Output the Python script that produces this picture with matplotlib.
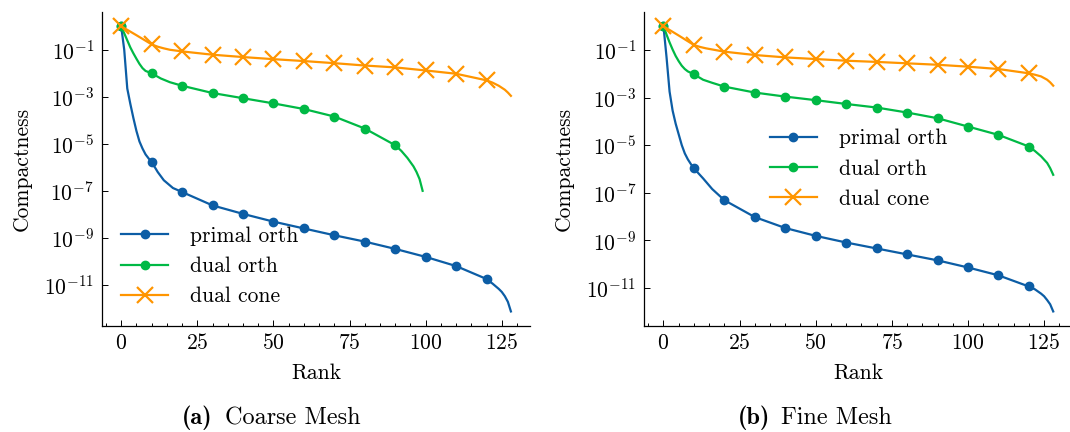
import numpy as np
import matplotlib
matplotlib.use("Agg")
import matplotlib.pyplot as plt
from matplotlib.ticker import MultipleLocator, FixedLocator, NullLocator, LogFormatterSciNotation

# ---------------- data (compactness as log10 exponent) -------------
series_labels = ["primal orth", "dual orth", "dual cone"]
colors = ["#0C5DA5", "#00B945", "#FF9500"]
yticks = [1e-11, 1e-9, 1e-7, 1e-5, 1e-3, 1e-1]
caption_tags = ["(a)", "(b)"]
caption_texts = ["Coarse Mesh", "Fine Mesh"]

# Coarse mesh
coarse_primal_x = [0, 1, 2, 3, 4, 5, 6, 7, 8, 9, 10, 12, 14, 17, 20, 30, 40, 50, 60, 70, 80,
                   90, 100, 110, 120, 122, 124, 125, 126, 127, 128]
coarse_primal_e = [0.0, -1.0, -2.65, -3.3, -3.9, -4.45, -4.9, -5.2, -5.45, -5.62, -5.77, -6.2,
                   -6.55, -6.88, -7.05, -7.62, -7.98, -8.31, -8.60, -8.89, -9.16, -9.47, -9.81,
                   -10.2, -10.75, -10.95, -11.17, -11.3, -11.48, -11.72, -12.13]

coarse_dualorth_x = [0, 1, 2, 3, 4, 5, 6, 7, 8, 10, 13, 16, 20, 30, 40, 50, 60, 70, 80, 90,
                     92, 94, 96, 97, 98, 99]
coarse_dualorth_e = [0.0, -0.3, -0.6, -0.9, -1.15, -1.38, -1.6, -1.78, -1.9, -2.0, -2.22, -2.38,
                     -2.53, -2.84, -3.06, -3.28, -3.52, -3.84, -4.35, -5.06, -5.3, -5.6, -5.96,
                     -6.2, -6.5, -7.0]

coarse_cone_x = [0, 5, 10, 12, 14, 16, 20, 30, 40, 50, 60, 70, 80, 90, 100, 110, 120, 122,
                 124, 126, 127, 128]
coarse_cone_e = [0.0, -0.38, -0.77, -0.87, -0.94, -1.0, -1.07, -1.21, -1.31, -1.40, -1.48,
                 -1.57, -1.67, -1.75, -1.88, -2.02, -2.3, -2.4, -2.53, -2.7, -2.82, -2.96]

# Fine mesh
fine_primal_x = [0, 1, 2, 3, 4, 5, 6, 7, 8, 9, 10, 13, 16, 20, 30, 40, 50, 60, 70, 80, 90,
                 100, 110, 120, 122, 124, 125, 126, 127, 128]
fine_primal_e = [0.0, -1.3, -2.75, -3.55, -4.1, -4.55, -5.0, -5.35, -5.6, -5.8, -5.98, -6.4,
                 -6.85, -7.32, -8.03, -8.49, -8.82, -9.10, -9.35, -9.60, -9.85, -10.15, -10.48,
                 -10.95, -11.07, -11.25, -11.36, -11.52, -11.7, -12.0]

fine_dualorth_x = [0, 1, 2, 3, 4, 5, 6, 7, 8, 10, 13, 16, 20, 30, 40, 50, 60, 70, 80, 90, 100,
                   110, 120, 122, 124, 126, 127, 128]
fine_dualorth_e = [0.0, -0.35, -0.68, -0.98, -1.25, -1.47, -1.66, -1.8, -1.9, -2.02, -2.25,
                   -2.38, -2.54, -2.79, -2.96, -3.11, -3.27, -3.42, -3.63, -3.87, -4.22, -4.57,
                   -5.06, -5.25, -5.47, -5.75, -5.97, -6.25]

fine_cone_x = [0, 5, 10, 12, 14, 17, 20, 30, 40, 50, 60, 70, 80, 90, 100, 110, 120, 122, 124,
               126, 127, 128]
fine_cone_e = [0.0, -0.39, -0.79, -0.87, -0.93, -1.0, -1.07, -1.21, -1.31, -1.38, -1.45, -1.50,
               -1.56, -1.62, -1.70, -1.80, -1.98, -2.04, -2.11, -2.25, -2.36, -2.5]

panels = [
    [(coarse_primal_x, coarse_primal_e), (coarse_dualorth_x, coarse_dualorth_e),
     (coarse_cone_x, coarse_cone_e)],
    [(fine_primal_x, fine_primal_e), (fine_dualorth_x, fine_dualorth_e),
     (fine_cone_x, fine_cone_e)],
]

# ---------------- style -------------
plt.rcParams.update({
    "font.family": "serif",
    "font.serif": ["cmr10"],
    "mathtext.fontset": "cm",
    "axes.formatter.use_mathtext": True,
    "axes.unicode_minus": True,
    "font.size": 15.5,
    "axes.linewidth": 0.9,
    "xtick.direction": "in",
    "ytick.direction": "in",
    "xtick.major.size": 4.5,
    "xtick.minor.size": 2.4,
    "ytick.major.size": 4.5,
    "xtick.major.width": 0.7,
    "xtick.minor.width": 0.7,
    "ytick.major.width": 0.7,
    "xtick.major.pad": 5.5,
    "ytick.major.pad": 5.5,
})

fig = plt.figure(figsize=(10.7, 4.32), dpi=100)
W, H = 1070.0, 432.0
ax_rects = [
    [101.7 / W, (H - 325.7) / H, 428.7 / W, 313.7 / H],
    [644.0 / W, (H - 325.7) / H, 428.7 / W, 313.7 / H],
]
legend_locs = ["lower left", "center"]
caption_tag_right = [213.0, 770.0]
caption_text_left = [225.0, 781.0]
markers = [dict(marker="o", markersize=6),
           dict(marker="o", markersize=6),
           dict(marker="x", markersize=12, markeredgewidth=1.6)]

for p, rect in enumerate(ax_rects):
    ax = fig.add_axes(rect)
    for s, (xs, es) in enumerate(panels[p]):
        xs = np.asarray(xs)
        ys = 10.0 ** np.asarray(es)
        mk = [i for i, x in enumerate(xs) if x % 10 == 0 and x < 125]
        ax.plot(xs, ys, color=colors[s], lw=1.6, markevery=mk,
                label=series_labels[s], **markers[s])
    ax.set_yscale("log")
    ax.yaxis.set_major_locator(FixedLocator(yticks))
    ax.yaxis.set_major_formatter(LogFormatterSciNotation())
    ax.yaxis.set_minor_locator(NullLocator())
    ax.xaxis.set_major_locator(MultipleLocator(25))
    ax.xaxis.set_minor_locator(MultipleLocator(5))
    ax.spines["top"].set_visible(False)
    ax.spines["right"].set_visible(False)
    ax.tick_params(which="both", top=False, right=False)
    ax.set_xlabel("Rank", labelpad=7)
    ax.set_ylabel("Compactness", labelpad=9)
    ax.legend(loc=legend_locs[p], frameon=False, fontsize=15.5, handlelength=2.2,
              handletextpad=1.0, labelspacing=0.5)
    fig.text(caption_tag_right[p] / W, 1 - 418.0 / H, caption_tags[p], ha="right",
             va="center", fontsize=17.5, family="cmb10")
    fig.text(caption_text_left[p] / W, 1 - 418.0 / H, caption_texts[p], ha="left",
             va="center", fontsize=17.5)

fig.savefig("out.png", dpi=100)
